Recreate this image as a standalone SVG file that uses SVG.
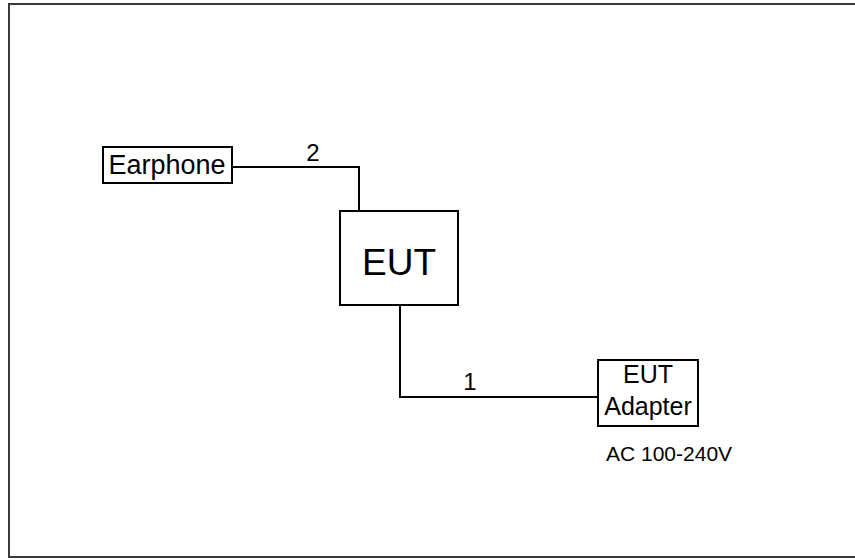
<svg xmlns="http://www.w3.org/2000/svg" width="855" height="560" viewBox="0 0 855 560">
<style>
.box{fill:#fff;stroke:#000;stroke-width:2}
.wire{fill:none;stroke:#000;stroke-width:2}
text{font-family:"Liberation Sans",Arial,sans-serif;fill:#000}
</style>
<rect x="0" y="0" width="855" height="560" fill="#fff"/>
<rect x="9" y="4" width="860" height="553" fill="none" stroke="#3a3a3a" stroke-width="2"/>
<g id="connectors">
<polyline class="wire" points="232,167 359,167 359,211"/>
<polyline class="wire" points="400,305 400,397 598,397"/>
<text x="313" y="161" font-size="24" text-anchor="middle">2</text>
<text x="470" y="390" font-size="24" text-anchor="middle">1</text>
</g>
<g id="earphone">
<rect class="box" x="103" y="147" width="129" height="36"/>
<text x="167" y="174" font-size="27" text-anchor="middle">Earphone</text>
</g>
<g id="eut">
<rect class="box" x="340" y="211" width="118" height="94"/>
<text x="399" y="275" font-size="37" text-anchor="middle">EUT</text>
</g>
<g id="adapter">
<rect class="box" x="598" y="360" width="100" height="66"/>
<text x="648" y="383" font-size="25" text-anchor="middle">EUT</text>
<text x="648" y="415" font-size="25" text-anchor="middle">Adapter</text>
<text x="606" y="461" font-size="21">AC 100-240V</text>
</g>
</svg>
